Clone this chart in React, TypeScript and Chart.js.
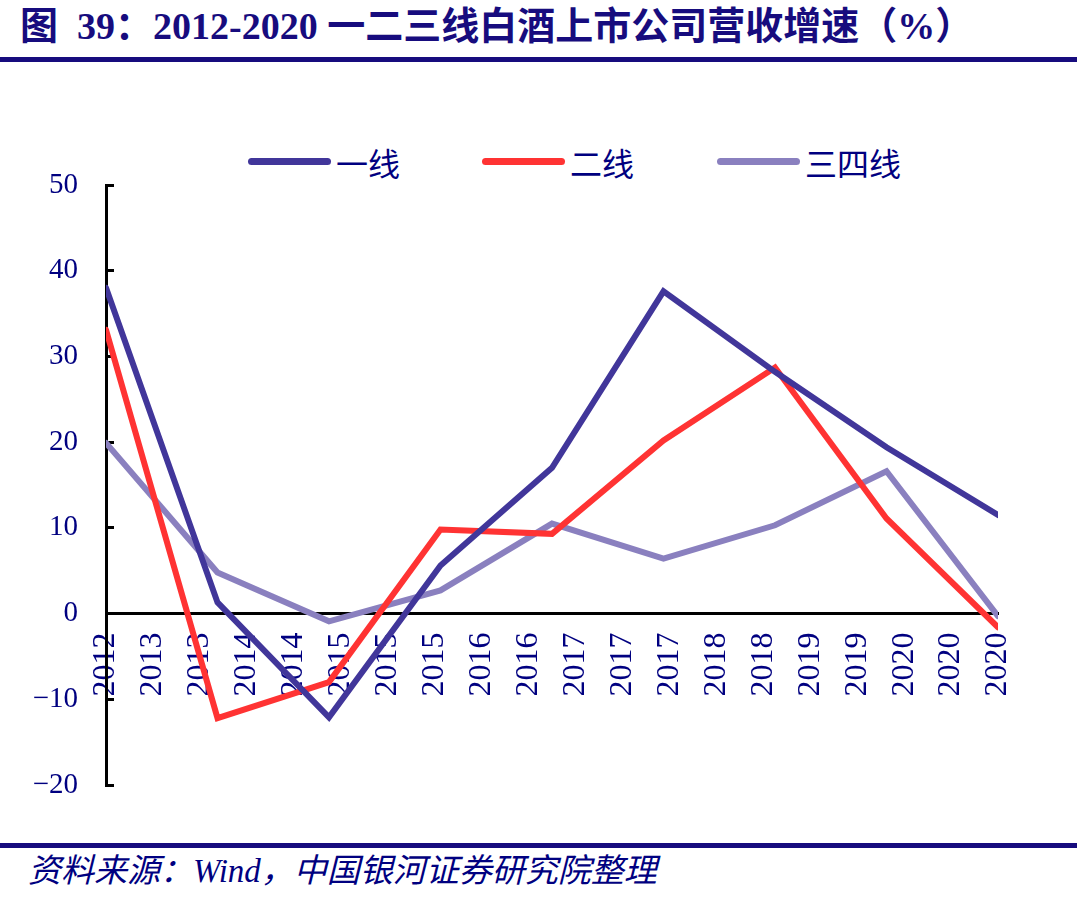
import React, { useEffect, useRef } from 'react';
import { Chart, registerables } from 'chart.js';

Chart.register(...registerables);

const years = [2012, 2013, 2014, 2015, 2016, 2017, 2018, 2019, 2020];
const tier1 = [38.0, 1.3, -12.1, 5.6, 17.0, 37.6, 28.2, 19.4, 11.5];
const tier2 = [33.1, -12.2, -8.0, 9.8, 9.3, 20.2, 28.7, 11.1, -1.6];
const tier34 = [19.9, 4.8, -0.9, 2.7, 10.5, 6.4, 10.3, 16.6, -0.3];
const xTickLabels = ['2012', '2013', '2013', '2014', '2014', '2015', '2015', '2015', '2016', '2016', '2017', '2017', '2017', '2018', '2018', '2019', '2019', '2020', '2020', '2020'];
const seriesNames = ['一线', '二线', '三四线'];
const seriesColors = ['#41369A', '#FF3333', '#8A80BF'];
const yMin = -20;
const yMax = 50;
const yStep = 10;

const NAVY = '#000080';
const BAR = '#170C7E';

export default function App() {
  const canvasRef = useRef<HTMLCanvasElement | null>(null);

  useEffect(() => {
    const canvas = canvasRef.current;
    if (!canvas) return;
    const seriesData = [tier1, tier2, tier34];
    const chart = new Chart(canvas, {
      type: 'line',
      data: {
        datasets: seriesNames.map((name, si) => ({
          label: name,
          data: years.map((yr, i) => ({ x: yr, y: seriesData[si][i] })),
          borderColor: seriesColors[si],
          backgroundColor: seriesColors[si],
          borderWidth: 6,
          borderCapStyle: 'round',
          borderJoinStyle: 'miter',
          pointRadius: 0,
          tension: 0,
        })),
      },
      options: {
        responsive: false,
        animation: false,
        layout: { padding: { left: 0, right: 79, top: 105, bottom: 55 } },
        plugins: {
          legend: { display: false },
          tooltip: { enabled: false },
        },
        scales: {
          x: {
            type: 'linear',
            position: { y: 0 },
            min: years[0],
            max: years[years.length - 1],
            afterBuildTicks: (scale: any) => {
              const n = xTickLabels.length;
              const lo = years[0];
              const hi = years[years.length - 1];
              scale.ticks = xTickLabels.map((_, i) => ({ value: lo + (i * (hi - lo)) / (n - 1) }));
            },
            afterFit: (scale: any) => {
              scale.height = 0;
            },
            grid: { display: false, drawTicks: false },
            border: { display: true, color: '#000', width: 3 },
            ticks: {
              autoSkip: false,
              minRotation: 90,
              maxRotation: 90,
              padding: 19,
              color: NAVY,
              font: { family: '"Liberation Serif", "DejaVu Serif", serif', size: 32 },
              callback: (_v: any, i: number) => xTickLabels[i],
            },
          },
          y: {
            type: 'linear',
            position: 'left',
            min: yMin,
            max: yMax,
            afterFit: (scale: any) => {
              scale.width = 106;
            },
            grid: {
              drawOnChartArea: false,
              drawTicks: true,
              tickLength: -8,
              color: '#000',
              lineWidth: 3,
            },
            border: { display: true, color: '#000', width: 3 },
            ticks: {
              stepSize: yStep,
              padding: 36,
              color: NAVY,
              font: { family: '"Liberation Serif", "DejaVu Serif", serif', size: 29 },
              callback: (v: any) => (Number(v) < 0 ? '\u2212' + Math.abs(Number(v)) : String(v)),
            },
          },
        },
      } as any,
    });
    return () => chart.destroy();
  }, []);

  const cjk = '"Noto Sans CJK SC", "Liberation Serif", serif';

  return (
    <div style={{ position: 'absolute', left: 0, top: 0, width: 1077, height: 903, background: '#fff', overflow: 'hidden' }}>
      <div
        style={{
          position: 'absolute',
          left: 20,
          top: 3,
          whiteSpace: 'nowrap',
          color: BAR,
          fontWeight: 'bold',
          fontSize: 38,
          lineHeight: '46px',
          fontFamily: '"Liberation Serif", "Noto Sans CJK SC", serif',
        }}
      >
        图&nbsp;&nbsp;39：2012-2020 一二三线白酒上市公司营收增速（%）
      </div>
      <div style={{ position: 'absolute', left: 0, top: 57, width: 1077, height: 5, background: BAR }} />

      {seriesNames.map((name, i) => {
        const lefts = [248, 482, 717];
        return (
          <React.Fragment key={name}>
            <div
              style={{
                position: 'absolute',
                left: lefts[i],
                top: 158,
                width: 83,
                height: 7,
                borderRadius: 4,
                background: seriesColors[i],
              }}
            />
            <div
              style={{
                position: 'absolute',
                left: lefts[i] + 88,
                top: 141,
                whiteSpace: 'nowrap',
                color: NAVY,
                fontSize: 32,
                lineHeight: '42px',
                fontFamily: cjk,
              }}
            >
              {name}
            </div>
          </React.Fragment>
        );
      })}

      <canvas
        ref={canvasRef}
        width={1077}
        height={760}
        style={{ position: 'absolute', left: 0, top: 80, width: 1077, height: 760 }}
      />

      <div style={{ position: 'absolute', left: 0, top: 843, width: 1077, height: 5, background: BAR }} />
      <div
        style={{
          position: 'absolute',
          left: 28,
          top: 850,
          whiteSpace: 'nowrap',
          color: NAVY,
          fontSize: 33,
          fontStyle: 'italic',
          lineHeight: '42px',
          fontFamily: '"Liberation Serif", "Noto Sans CJK SC", serif',
        }}
      >
        资料来源：Wind，中国银河证券研究院整理
      </div>
    </div>
  );
}
